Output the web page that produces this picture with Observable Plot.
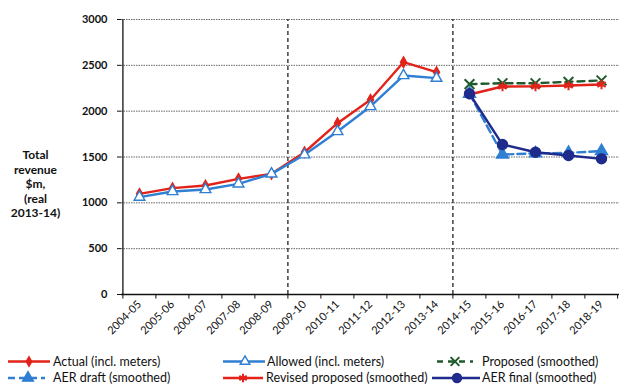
<!DOCTYPE html>
<html>
<head>
<meta charset="utf-8">
<script src="https://cdn.jsdelivr.net/npm/d3@7"></script>
<script src="https://cdn.jsdelivr.net/npm/@observablehq/plot@0.6"></script>
<style>
  html, body { margin: 0; padding: 0; background: #fff; }
  #chart { width: 619px; height: 385px; font-family: Lato, "Open Sans", sans-serif; }
  #chart svg { display: block; }
</style>
</head>
<body>
<div id="chart"></div>
<script>
// Financial years on the horizontal axis
const years = ["2004-05","2005-06","2006-07","2007-08","2008-09","2009-10","2010-11",
  "2011-12","2012-13","2013-14","2014-15","2015-16","2016-17","2017-18","2018-19"];
const histYears = years.slice(0, 10);
const forecastYears = years.slice(10);

// Total revenue, $m (real 2013-14)
const actual  = [1098, 1160, 1189, 1262, 1316, 1552, 1869, 2124, 2534, 2425];
const allowed = [1062, 1124, 1145, 1207, 1316, 1524, 1778, 2051, 2389, 2360];
const proposed = [2295, 2305, 2305, 2320, 2335];
const revised  = [2182, 2269, 2270, 2280, 2291];
const aerDraft = [2190, 1527, 1540, 1545, 1565];
const aerFinal = [2190, 1636, 1552, 1516, 1480];

const yTicks = [0, 500, 1000, 1500, 2000, 2500, 3000];
const periodStarts = ["2009-10", "2014-15"];

const W = 619, marginLeft = 121, marginRight = 0;
const step = (W - marginLeft - marginRight) / years.length;

const rows = (xs, vs) => xs.map((year, i) => ({year, value: vs[i]}));

const RED = "#e2231a", BLUE = "#2f7fd3", GREEN = "#1e5a2c", NAVY = "#1f2b8c";

const series = [
  {name: "Actual (incl. meters)", data: rows(histYears, actual), stroke: RED, dash: null,
   symbol: "diamond", r: 3.2, fill: RED, mstroke: RED},
  {name: "Allowed (incl. meters)", data: rows(histYears, allowed), stroke: BLUE, dash: null,
   symbol: "triangle", r: 4, fill: "white", mstroke: BLUE},
  {name: "Proposed (smoothed)", data: rows(forecastYears, proposed), stroke: GREEN, dash: "7,5",
   symbol: "times", r: 4.5, fill: "none", mstroke: GREEN},
  {name: "Revised proposed (smoothed)", data: rows(forecastYears, revised), stroke: RED, dash: null,
   symbol: "asterisk", r: 4.5, fill: "none", mstroke: RED},
  {name: "AER draft (smoothed)", data: rows(forecastYears, aerDraft), stroke: BLUE, dash: "8,4",
   symbol: "triangle", r: 4.5, fill: BLUE, mstroke: BLUE},
  {name: "AER final (smoothed)", data: rows(forecastYears, aerFinal), stroke: NAVY, dash: null,
   symbol: "circle", r: 5, fill: NAVY, mstroke: NAVY}
];

const seriesMarks = series.flatMap(s => [
  Plot.line(s.data, {x: "year", y: "value", stroke: s.stroke, strokeWidth: 2.4,
    strokeDasharray: s.dash, curve: "linear"}),
  Plot.dot(s.data, {x: "year", y: "value", symbol: () => s.symbol, r: s.r,
    fill: s.fill, stroke: s.mstroke, strokeWidth: s.symbol === "times" || s.symbol === "asterisk" ? 2 : 1.4})
]);

const plot = Plot.plot({
  width: W,
  height: 350,
  marginLeft, marginRight,
  marginTop: 19,
  marginBottom: 56,
  style: {fontFamily: "Lato, 'Open Sans', sans-serif", fontSize: "11px", color: "#111"},
  x: {type: "point", domain: years, padding: 0.5, align: 0.5, label: null},
  y: {domain: [0, 3000], label: null},
  marks: [
    // horizontal gridlines
    Plot.ruleY(yTicks.slice(1), {stroke: "#555", strokeWidth: 0.9, strokeDasharray: "1.5,1"}),
    // period separators
    Plot.ruleX(periodStarts, {x: d => d, dx: -step / 2, y1: 0, y2: 3000,
      stroke: "#222", strokeWidth: 1.3, strokeDasharray: "4,3"}),
    // axis lines
    Plot.ruleY([0], {stroke: "#111", strokeWidth: 1.3}),
    Plot.ruleX([years[0]], {dx: -step / 2, y1: 0, y2: 3000, stroke: "#111", strokeWidth: 1.3}),
    // category boundary ticks
    Plot.ruleX(years, {x: d => d, dx: -step / 2, y1: 0, y2: -50, stroke: "#111", strokeWidth: 1}),
    Plot.ruleX([years[years.length - 1]], {dx: step / 2 - 0.5, y1: 0, y2: -50, stroke: "#111", strokeWidth: 1}),
    Plot.axisY({ticks: yTicks, tickFormat: d => String(d), tickSize: 4, tickPadding: 10,
      fontWeight: "bold", fontSize: 11, label: null}),
    Plot.axisX({tickSize: 0, tickRotate: -45, tickPadding: 8, fontSize: 11, label: null}),
    // y axis title
    Plot.text(["Total\nrevenue\n$m,\n(real\n2013-14)"], {frameAnchor: "left", y: () => 1210, dx: -86,
      textAnchor: "middle", lineHeight: 1.2, fontWeight: "bold", fontSize: 12, fill: "#111"}),
    ...seriesMarks
  ]
});

const chart = document.getElementById("chart");
chart.appendChild(plot);

// Legend below the plot
const legendItems = [
  {s: series[0], row: 0, x0: 8, x1: 50, mx: 29, tx: 53},
  {s: series[1], row: 0, x0: 223, x1: 265, mx: 245, tx: 267},
  {s: series[2], row: 0, x0: 437, x1: 473, mx: 455, tx: 482},
  {s: series[4], row: 1, x0: 8, x1: 45, mx: 28, tx: 53},
  {s: series[3], row: 1, x0: 223, x1: 263, mx: 243, tx: 266},
  {s: series[5], row: 1, x0: 432, x1: 480, mx: 457, tx: 482}
];
const symbolTypes = {diamond: d3.symbolDiamond, triangle: d3.symbolTriangle, times: d3.symbolTimes,
  asterisk: d3.symbolAsterisk, circle: d3.symbolCircle};
const legend = d3.select(chart).append("svg").attr("width", W).attr("height", 35)
  .style("font-family", "Lato, 'Open Sans', sans-serif").style("font-size", "12.5px");
const rowY = [11.5, 28];
for (const it of legendItems) {
  const y = rowY[it.row];
  const g = legend.append("g");
  g.append("line").attr("x1", it.x0).attr("x2", it.x1).attr("y1", y).attr("y2", y)
    .attr("stroke", it.s.stroke).attr("stroke-width", 2.4)
    .attr("stroke-dasharray", it.s.dash ? (it.s.dash === "7,5" ? "6,5" : "7,4") : null);
  const r = it.s.r * 0.9;
  g.append("path").attr("transform", `translate(${it.mx},${y})`)
    .attr("d", d3.symbol(symbolTypes[it.s.symbol], r * r * Math.PI)())
    .attr("fill", it.s.fill).attr("stroke", it.s.mstroke)
    .attr("stroke-width", it.s.symbol === "times" || it.s.symbol === "asterisk" ? 2 : 1.4);
  g.append("text").attr("x", it.tx).attr("y", y).attr("dy", "0.35em").attr("fill", "#111")
    .text(it.s.name);
}
</script>
</body>
</html>
